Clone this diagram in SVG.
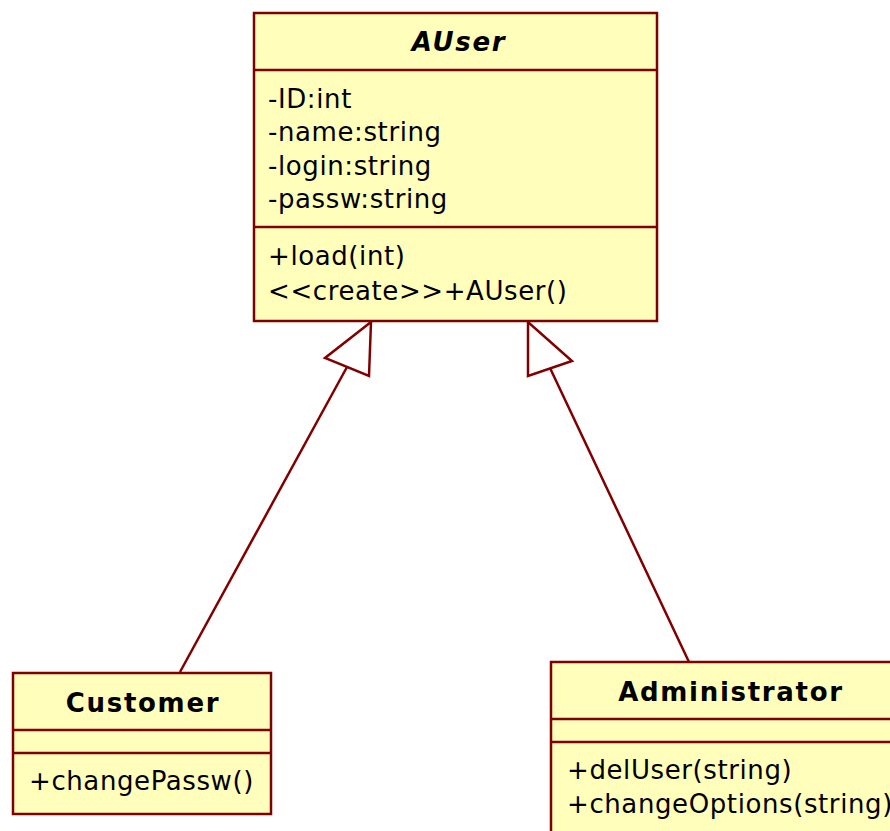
<svg xmlns="http://www.w3.org/2000/svg" width="890" height="831" viewBox="0 0 890 831">
  <style>
    .box { fill: #ffffbb; stroke: #800000; stroke-width: 2.5; }
    .sep { stroke: #800000; stroke-width: 2.5; }
    .edge { fill: none; stroke: #800000; stroke-width: 2.5; }
    .head { fill: #ffffff; stroke: #800000; stroke-width: 2.5; stroke-linejoin: miter; }
    text { font-family: "DejaVu Sans", Verdana, sans-serif; fill: #000000; }
    .title { font-size: 26px; font-weight: bold; letter-spacing: 1.7px; text-anchor: middle; }
    .member { font-size: 26px; letter-spacing: 0.6px; }
  </style>
  <rect width="890" height="831" fill="#ffffff"/>

  <!-- generalisation connectors -->
  <g id="connectors">
    <line class="edge" x1="180" y1="672" x2="347" y2="367"/>
    <polygon class="head" points="371,322 325,358 369,376"/>
    <line class="edge" x1="689" y1="662" x2="550" y2="368"/>
    <polygon class="head" points="528,322 528,376 572,361"/>
  </g>

  <!-- abstract base class -->
  <g id="AUser">
    <rect class="box" x="254" y="13" width="403" height="308"/>
    <line class="sep" x1="254" y1="70" x2="657" y2="70"/>
    <line class="sep" x1="254" y1="227" x2="657" y2="227"/>
    <text class="title" x="459" y="51" font-style="italic">AUser</text>
    <text class="member" x="268" y="108">-ID:int</text>
    <text class="member" x="268" y="141">-name:string</text>
    <text class="member" x="268" y="175">-login:string</text>
    <text class="member" x="268" y="208">-passw:string</text>
    <text class="member" x="268" y="265">+load(int)</text>
    <text class="member" x="268" y="300">&lt;&lt;create&gt;&gt;+AUser()</text>
  </g>

  <g id="Customer">
    <rect class="box" x="13" y="673" width="258" height="141"/>
    <line class="sep" x1="13" y1="730" x2="271" y2="730"/>
    <line class="sep" x1="13" y1="753" x2="271" y2="753"/>
    <text class="title" x="143" y="712">Customer</text>
    <text class="member" x="29" y="790">+changePassw()</text>
  </g>

  <g id="Administrator">
    <rect class="box" x="551" y="662" width="358" height="190"/>
    <line class="sep" x1="551" y1="719" x2="909" y2="719"/>
    <line class="sep" x1="551" y1="742" x2="909" y2="742"/>
    <text class="title" x="731" y="701">Administrator</text>
    <text class="member" x="567" y="779">+delUser(string)</text>
    <text class="member" x="567" y="813">+changeOptions(string)</text>
  </g>
</svg>
